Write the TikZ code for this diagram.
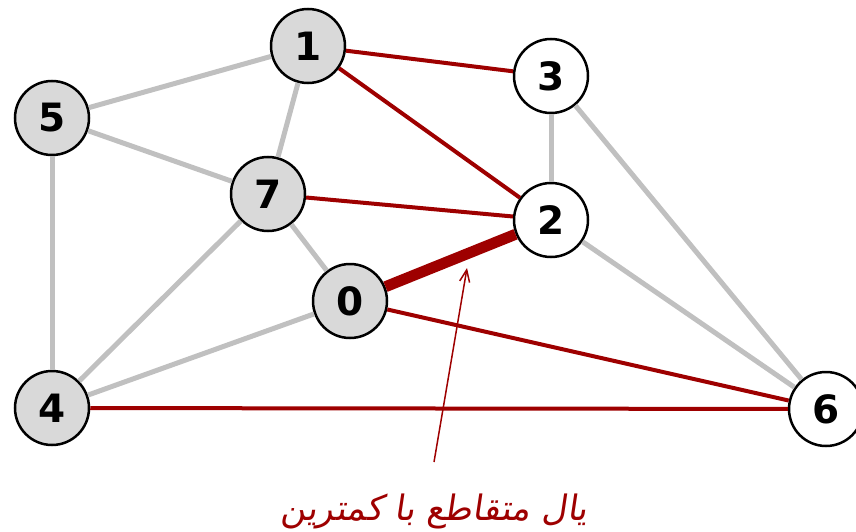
\documentclass[tikz,border=0pt]{standalone}
\usepackage{fontspec}
\usepackage{xcolor}
\usepackage{tikz}
\usetikzlibrary{arrows.meta}
\newfontfamily\numfont{DejaVu Sans}
\newfontfamily\arabicfont[Script=Arabic, FakeSlant=0.15]{DejaVu Sans}
\TeXXeTstate=1
\definecolor{edgered}{HTML}{9E0000}
\definecolor{edgegray}{HTML}{C0C0C0}
\definecolor{vfill}{HTML}{D9D9D9}

\tikzset{
  vertex/.style={draw, circle, line width=2.5pt, minimum size=74pt, inner sep=0pt,
    font=\numfont\bfseries\fontsize{39}{40}\selectfont},
  grayv/.style={vertex, fill=vfill},
  whitev/.style={vertex, fill=white},
  plain/.style={edgegray, line width=5pt},
  tree/.style={edgered, line width=4pt},
  light/.style={edgered, line width=11pt}
}

\begin{document}
\begin{tikzpicture}[x=1pt, y=-1pt]
    \useasboundingbox (0,0) rectangle (856,532);
    % vertices
    \node (n1) [grayv] at (308,46) {1};
    \node (n3) [whitev] at (551,76) {3};
    \node (n5) [grayv] at (52,118) {5};
    \node (n7) [grayv] at (268,194) {7};
    \node (n2) [whitev] at (551,220) {2};
    \node (n0) [grayv] at (350,301) {0};
    \node (n4) [grayv] at (52,408) {4};
    \node (n6) [whitev] at (826,409) {6};

    % other edges
    \draw[plain] (n5) -- (n1);
    \draw[plain] (n5) -- (n7);
    \draw[plain] (n1) -- (n7);
    \draw[plain] (n5) -- (n4);
    \draw[plain] (n7) -- (n4);
    \draw[plain] (n7) -- (n0);
    \draw[plain] (n0) -- (n4);
    \draw[plain] (n3) -- (n2);
    \draw[plain] (n3) -- (n6);
    \draw[plain] (n2) -- (n6);

    % spanning tree
    \draw[tree] (n1) -- (n3);
    \draw[tree] (n1) -- (n2);
    \draw[tree] (n7) -- (n2);
    \draw[tree] (n0) -- (n6);
    \draw[tree] (n4) -- (n6);
    \draw[light] (n0) -- (n2);

    % label
    \node (cross) [text=edgered, font=\arabicfont\fontsize{35}{36}\selectfont, anchor=base] at (434,520)
        {\beginR یال متقاطع با کمترین\endR};
    \coordinate (from) at (434,462);
    \coordinate (hit) at (467,268);
    \draw[edgered, line width=1.5pt, -{Straight Barb[length=12pt, width=10pt]}] (from) -- (hit);
\end{tikzpicture}
\end{document}
